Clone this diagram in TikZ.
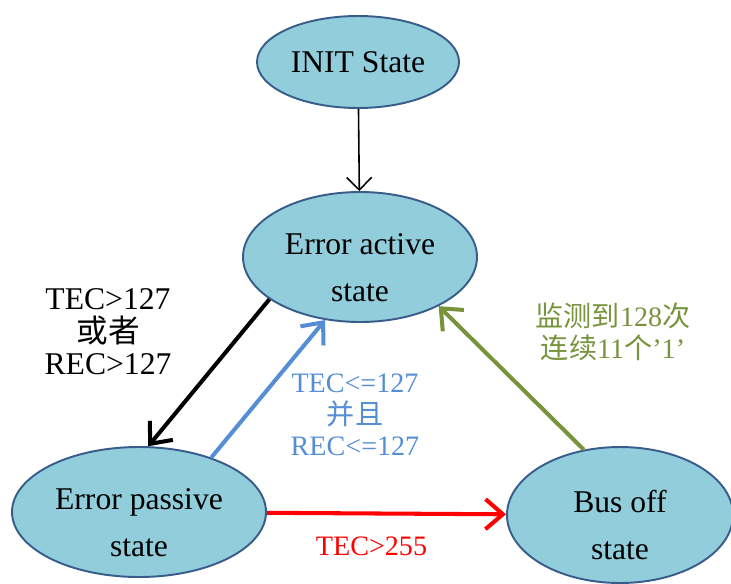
\documentclass[tikz,border=0pt]{standalone}
\usepackage{fontspec}
\setmainfont{Liberation Serif}
\newfontfamily\cjk{Noto Sans CJK SC}
\usetikzlibrary{arrows.meta,shapes.geometric}
\definecolor{statefill}{RGB}{146,205,220}
\definecolor{stateline}{RGB}{56,93,138}
\definecolor{okblue}{RGB}{85,142,213}
\definecolor{busgreen}{RGB}{119,147,60}
\newcommand{\statelift}{\rule{0pt}{24pt}}

\begin{document}
\begin{tikzpicture}[
  state/.style={draw=stateline, fill=statefill, ellipse, line width=1.1pt,
    inner sep=0pt, align=center, font=\fontsize{18}{27}\selectfont},
  cond/.style={align=center, font=\fontsize{16}{18}\selectfont},
  bigarrow/.style={-{Straight Barb[length=3.5mm,width=6mm]}, line width=2.3pt}]
\useasboundingbox (0,0) rectangle (14.62,-11.66);
\node[state, minimum width=4.04cm, minimum height=1.84cm] (init) at (7.16,-1.24) {INIT State};
\node[state, minimum width=4.68cm, minimum height=2.6cm] (act) at (7.2,-5.14) {\statelift Error active\\state};
\node[state, minimum width=5.08cm, minimum height=2.6cm] (pas) at (2.78,-10.24) {\statelift Error passive\\state};
\node[state, minimum width=4.52cm, minimum height=2.72cm] (bus) at (12.4,-10.3) {\statelift Bus off\\state};
\draw[-{Straight Barb[length=2.5mm,width=5mm]}, line width=0.9pt] (init) -- (act);
\draw[bigarrow, black] (act.205.7) -- (pas.82);
\draw[bigarrow, okblue] (pas.37) -- (act.241);
\draw[bigarrow, busgreen] (bus.119) -- (act.328);
\draw[bigarrow, red] (pas) -- (bus) node[midway, below=0.3cm, xshift=-0.3cm, cond, text=red] (l4) {TEC>255};
\node[cond, font=\fontsize{18}{18.5}\selectfont] (l1) at (2.16,-6.64) {TEC>127\\{\cjk 或者}\\REC>127};
\node[cond, text=okblue] (l2) at (7.1,-8.3) {TEC<=127\\{\cjk 并且}\\REC<=127};
\node[cond, text=busgreen] (l3) at (12.26,-6.64) {{\cjk 监测到}128{\cjk 次}\\{\cjk 连续}11{\cjk 个}’1’};
\end{tikzpicture}
\end{document}
